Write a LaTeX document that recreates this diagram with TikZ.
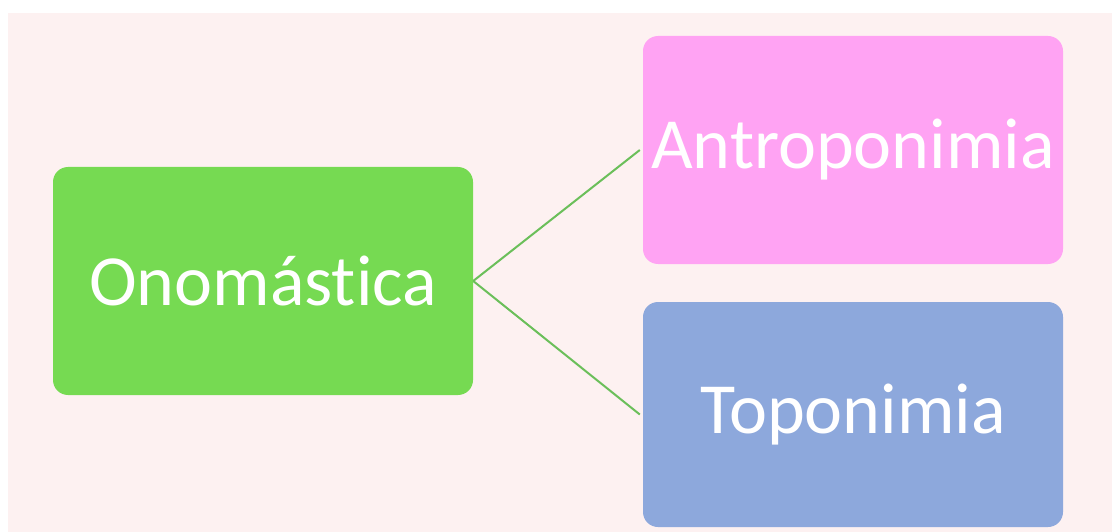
\documentclass[tikz,border=0pt]{standalone}
\usepackage{fontspec}
\setmainfont{Carlito}[Ligatures=NoCommon]

\definecolor{pagebg}{HTML}{FDF1F1}
\definecolor{onogreen}{HTML}{76DA52}
\definecolor{antropink}{HTML}{FFA3F3}
\definecolor{topoblue}{HTML}{8DA8DC}
\definecolor{linkgreen}{HTML}{6BBF5A}

\begin{document}
\begin{tikzpicture}[x=1pt,y=-1pt,
  termbox/.style={rounded corners=15pt,inner sep=0pt,minimum width=420pt,
    text=white,font=\fontsize{72}{86}\selectfont},
  link/.style={draw=linkgreen,line width=2pt}]

% Page.
\useasboundingbox[fill=white] (0,0) rectangle (1112,532);
\fill[pagebg] (8,13) rectangle (1112,532);

% Terms.
\node[termbox,fill=onogreen,minimum height=228pt] (ono) at (263,281) {Onomástica};
\node[termbox,fill=antropink,minimum height=228pt] (antro) at (853,150) {Antroponimia};
\node[termbox,fill=topoblue,minimum height=225pt] (topo) at (853,414.5) {Toponimia};

% Links.
\draw[link] (ono.east) -- ([xshift=-3pt]antro.west);
\draw[link] (ono.east) -- ([xshift=-3pt]topo.west);

\end{tikzpicture}
\end{document}
